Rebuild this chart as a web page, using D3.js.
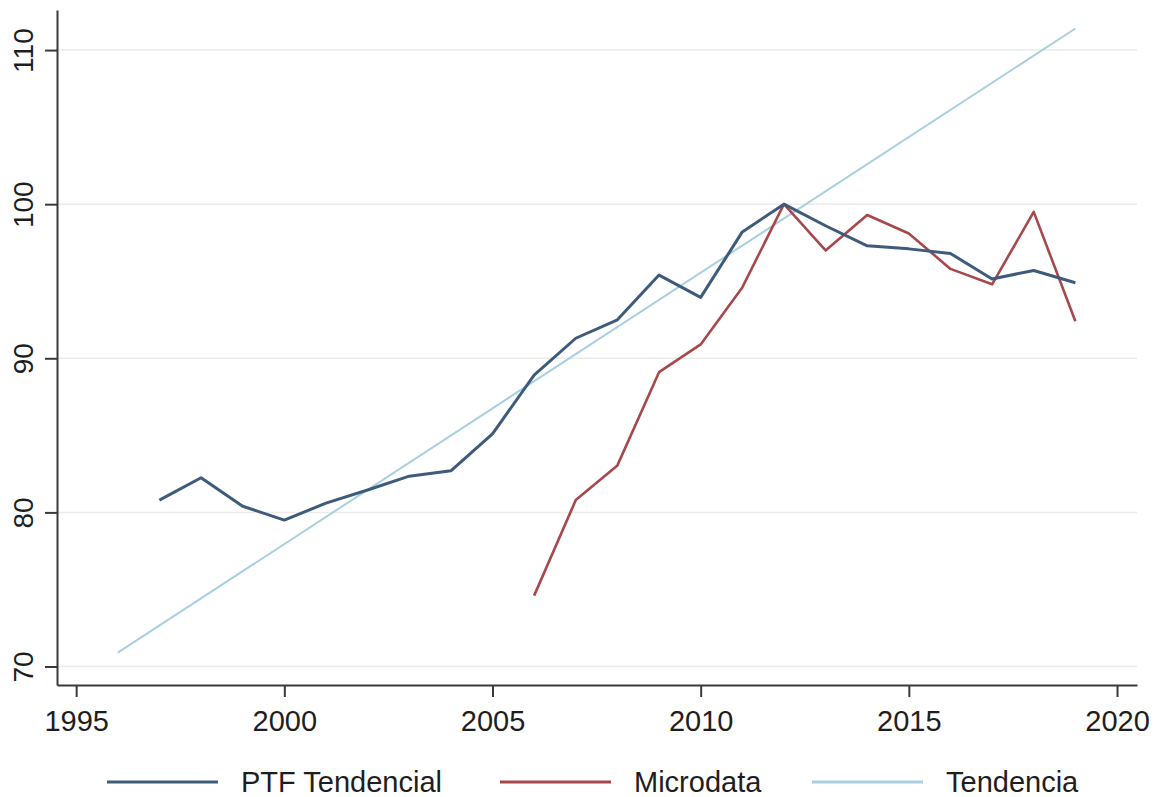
<!DOCTYPE html>
<meta charset="utf-8">
<title>PTF</title>
<style>
  body { margin: 0; background: #fff; }
  text { font-family: "Liberation Sans", Arial, sans-serif; fill: #1e1e1e; }
  .grid line { stroke: #ebebeb; stroke-width: 1.5px; }
  .axis path, .axis line { stroke: #3a3a3a; stroke-width: 2px; }
</style>
<body>
<script src="https://cdn.jsdelivr.net/npm/d3@7/dist/d3.min.js"></script>
<script>

var years = [1997, 1998, 1999, 2000, 2001, 2002, 2003, 2004, 2005, 2006, 2007, 2008,
             2009, 2010, 2011, 2012, 2013, 2014, 2015, 2016, 2017, 2018, 2019];
var ptf = [80.8, 82.25, 80.4, 79.5, 80.6, 81.45, 82.35, 82.7, 85.1, 88.9, 91.3, 92.5,
           95.4, 93.95, 98.2, 100, 98.6, 97.3, 97.1, 96.8, 95.15, 95.7, 94.9];
var microYears = [2006, 2007, 2008, 2009, 2010, 2011, 2012, 2013, 2014, 2015, 2016, 2017, 2018, 2019];
var micro = [74.6, 80.8, 83.05, 89.1, 90.9, 94.6, 100, 97.0, 99.3, 98.1, 95.8, 94.8, 99.5, 92.4];
var trendYears = [1996, 2019];
var trend = [70.9, 111.4];

var xTicks = [1995, 2000, 2005, 2010, 2015, 2020];
var yTicks = [70, 80, 90, 100, 110];
var names = ['PTF Tendencial', 'Microdata', 'Tendencia'];
var colors = ['#3f5b7b', '#a6484c', '#a9d0e1'];

var svg = d3.select('body').append('svg').attr('width', 1157).attr('height', 797);

var x = d3.scaleLinear().domain([1994.54, 2020.48]).range([57, 1137]);
var y = d3.scaleLinear().domain([68.8, 112.6]).range([685, 10]);

// gridlines
svg.append('g').attr('class', 'grid')
  .selectAll('line').data(yTicks)
  .enter().append('line')
  .attr('x1', 58).attr('x2', 1137)
  .attr('y1', function(d) { return y(d); })
  .attr('y2', function(d) { return y(d); });

var line = d3.line()
  .x(function(d) { return x(d[0]); })
  .y(function(d) { return y(d[1]); });

var series = [
  { pts: d3.zip(trendYears, trend), c: colors[2], w: 2 },
  { pts: d3.zip(microYears, micro), c: colors[1], w: 2.6 },
  { pts: d3.zip(years, ptf), c: colors[0], w: 3 }
];

svg.selectAll('path.series').data(series)
  .enter().append('path')
  .attr('class', 'series')
  .attr('d', function(d) { return line(d.pts); })
  .attr('fill', 'none')
  .attr('stroke', function(d) { return d.c; })
  .attr('stroke-width', function(d) { return d.w; })
  .attr('stroke-linejoin', 'round');

// axes
var xAxis = svg.append('g').attr('class', 'axis')
  .attr('transform', 'translate(0,685)')
  .call(d3.axisBottom(x).tickValues(xTicks).tickFormat(d3.format('d')).tickSizeOuter(0).tickSizeInner(12).tickPadding(13));
xAxis.selectAll('text').style('font-size', '29px').attr('fill', '#1e1e1e');

var yAxis = svg.append('g').attr('class', 'axis')
  .attr('transform', 'translate(57,0)')
  .call(d3.axisLeft(y).tickValues(yTicks).tickSizeOuter(0).tickSizeInner(12));
yAxis.selectAll('text')
  .style('font-size', '28px')
  .attr('fill', '#1e1e1e')
  .attr('transform', 'rotate(-90)')
  .attr('text-anchor', 'middle')
  .attr('x', 0).attr('y', -24).attr('dy', 0);

// legend
var legX = [107, 500, 812];
var leg = svg.selectAll('g.leg').data(names)
  .enter().append('g')
  .attr('class', 'leg')
  .attr('transform', function(d, i) { return 'translate(' + legX[i] + ',782)'; });
leg.append('line')
  .attr('x1', 0).attr('x2', 111)
  .attr('stroke', function(d, i) { return colors[i]; })
  .attr('stroke-width', 3);
leg.append('text')
  .attr('x', 134).attr('y', 10)
  .style('font-size', '29px')
  .text(function(d) { return d; });

</script>
</body>
